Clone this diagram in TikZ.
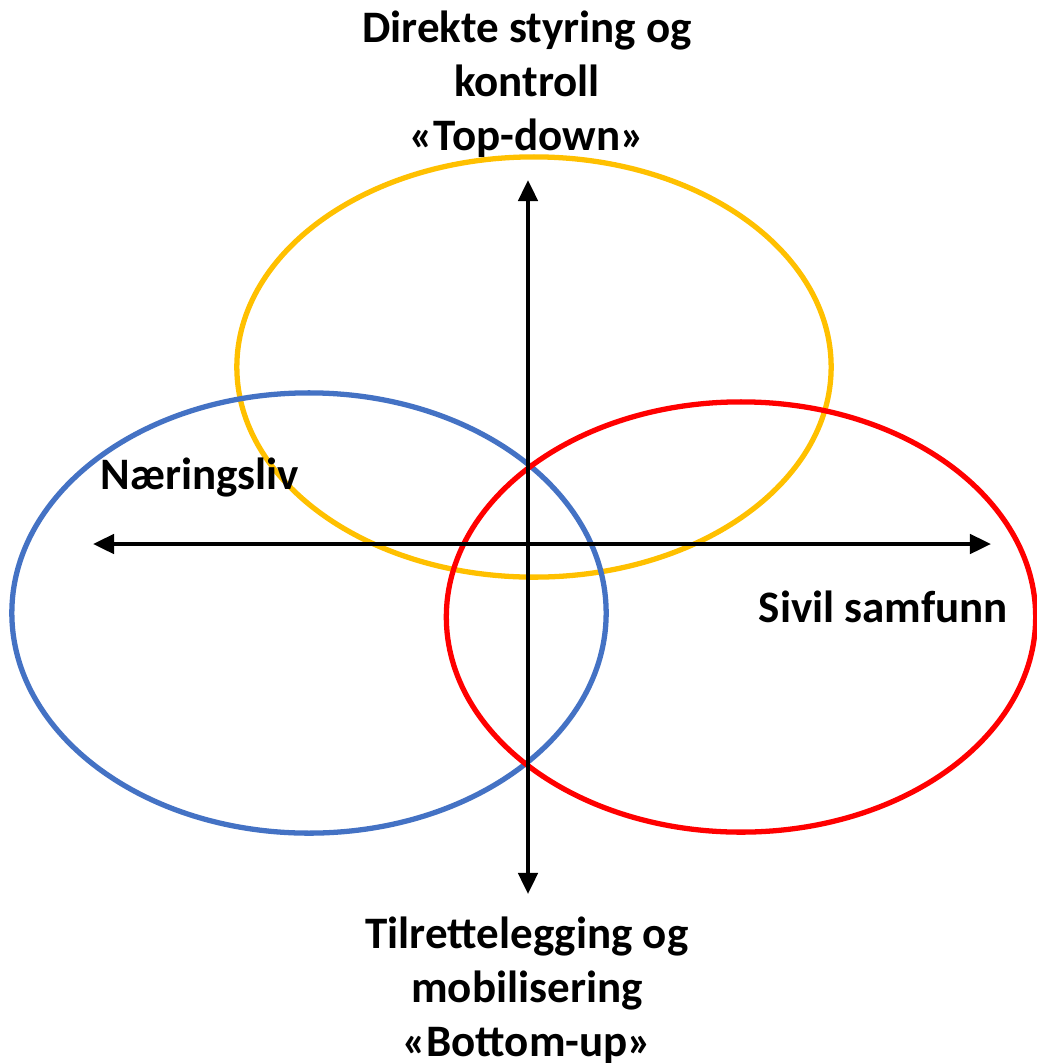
\documentclass[tikz,border=0pt]{standalone}
\usepackage{fontspec}
\setmainfont{Carlito}
\usetikzlibrary{arrows.meta,shapes.geometric,positioning}

\definecolor{gold}{HTML}{FFC000}
\definecolor{office blue}{HTML}{4472C4}

\tikzset{
    ring/.style={ellipse, draw, line width=1.5pt, inner sep=0pt},
    txt/.style={font=\fontsize{12.8}{15.4}\selectfont\bfseries, align=center, inner sep=0pt},
    axis/.style={{Triangle[length=6pt,width=5.5pt]}-{Triangle[length=6pt,width=5.5pt]}, line width=1.1pt}
}

\begin{document}
\begin{tikzpicture}[x=0.01cm, y=-0.01cm]
    \useasboundingbox (0,0) rectangle (1037,1063);

    \node[ring, gold, minimum width=5.94cm, minimum height=4.2cm] (topdown) at (534,367) {};
    \node[ring, office blue, minimum width=5.94cm, minimum height=4.4cm] (naering) at (309,613) {};
    \node[ring, red, minimum width=5.89cm, minimum height=4.3cm] (sivil) at (741,617) {};

    \coordinate (n) at (528,180);
    \coordinate (s) at (528,894);
    \coordinate (w) at (93,544);
    \coordinate (e) at (991,544);
    \draw[axis] (s) -- (n);
    \draw[axis] (w) -- (e);

    \node[txt] (top) at (527,84) {Direkte styring og\\kontroll\\«Top-down»};
    \node[txt] (bottom) at (527,990) {Tilrettelegging og\\mobilisering\\«Bottom-up»};
    \node[txt, anchor=west] (nlabel) at (100,478) {Næringsliv};
    \node[txt, anchor=west] (slabel) at (758,607) {Sivil samfunn};
\end{tikzpicture}
\end{document}
